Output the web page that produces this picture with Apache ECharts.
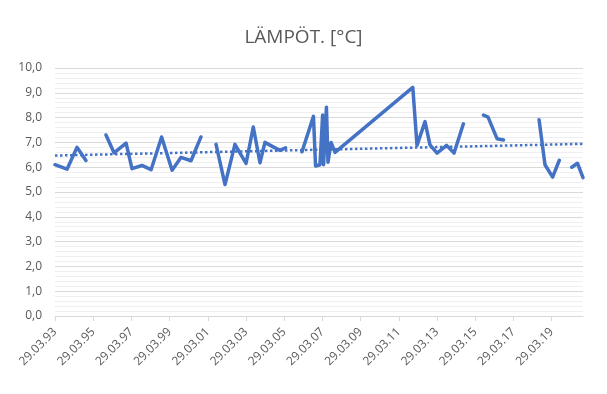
<!DOCTYPE html>
<html><head><meta charset="utf-8">
<script src="https://cdn.jsdelivr.net/npm/echarts@6/dist/echarts.min.js"></script>
<style>html,body{margin:0;padding:0;background:#fff}#c{width:607px;height:394px}</style>
</head><body><div id="c"></div>
<script>
const chartTitle = 'LÄMPÖT. [°C]';
const baseYear = 1993.24; // 29.03.1993
const years = [
  1993.24, 1993.87, 1994.39, 1994.86, 1995.35,
  1995.91, 1996.33, 1996.96, 1997.27, 1997.79, 1998.27, 1998.82, 1999.37, 1999.84, 2000.36, 2000.88, 2001.30,
  2001.67, 2002.14, 2002.66, 2003.24, 2003.62, 2003.97, 2004.23, 2004.71, 2005.02, 2005.31, 2005.70,
  2006.17, 2006.77, 2006.88, 2007.11, 2007.25, 2007.30, 2007.45, 2007.53, 2007.69, 2007.90,
  2011.97, 2012.19, 2012.61, 2012.87, 2013.24, 2013.74, 2014.13, 2014.62, 2015.20,
  2015.67, 2015.91, 2016.38, 2016.72, 2017.50,
  2018.58, 2018.89, 2019.29, 2019.64, 2019.95,
  2020.29, 2020.59, 2020.88
];
const temps = [
  6.10, 5.92, 6.80, 6.27, null,
  7.30, 6.58, 6.97, 5.94, 6.07, 5.90, 7.22, 5.88, 6.40, 6.26, 7.22, null,
  6.92, 5.30, 6.92, 6.15, 7.62, 6.18, 7.00, 6.80, 6.68, 6.78, null,
  6.62, 8.05, 6.05, 6.10, 8.10, 6.10, 8.42, 6.20, 7.00, 6.60,
  9.22, 6.88, 7.84, 6.90, 6.57, 6.88, 6.57, 7.75, null,
  8.10, 8.02, 7.15, 7.10, null,
  7.91, 6.10, 5.60, 6.28, null,
  6.00, 6.16, 5.58
];
const trendYears = [1993.24, 2020.88];
const trendTemps = [6.47, 6.94];
const tickLabels = ['29.03.93','29.03.95','29.03.97','29.03.99','29.03.01','29.03.03','29.03.05',
  '29.03.07','29.03.09','29.03.11','29.03.13','29.03.15','29.03.17','29.03.19'];

const off = y => +(y - baseYear).toFixed(3);
const mainData = years.map((y, i) => [off(y), temps[i] === null ? '-' : temps[i]]);
const trendData = trendYears.map((y, i) => [off(y), trendTemps[i]]);

const chart = echarts.init(document.getElementById('c'));
chart.setOption({
  animation: false,
  backgroundColor: '#fff',
  title: {
    text: chartTitle, left: 'center', top: 23,
    textStyle: { fontFamily: 'Open Sans', fontWeight: 'normal', fontSize: 19, color: '#595959' }
  },
  grid: { left: 55, right: 24, top: 68, bottom: 78 },
  xAxis: {
    type: 'value', min: 0, max: off(2020.88), interval: 2,
    axisLine: { show: true, lineStyle: { color: '#d9d9d9', width: 1 } },
    axisTick: { show: true, length: 5, lineStyle: { color: '#d9d9d9' } },
    splitLine: { show: false },
    axisLabel: {
      rotate: 45, margin: 14, color: '#595959', fontSize: 12, fontFamily: 'Open Sans',
      showMaxLabel: false,
      formatter: v => { const i = Math.round(v / 2); return Math.abs(v - i * 2) < 1e-6 ? (tickLabels[i] || '') : ''; }
    }
  },
  yAxis: {
    type: 'value', min: 0, max: 10, interval: 1,
    axisLine: { show: false }, axisTick: { show: false },
    splitLine: { show: true, lineStyle: { color: '#d9d9d9', width: 1 } },
    minorTick: { show: false, splitNumber: 5 },
    minorSplitLine: { show: true, lineStyle: { color: '#efefef', width: 1 } },
    axisLabel: {
      margin: 13, color: '#595959', fontSize: 12, fontFamily: 'Open Sans',
      formatter: v => v.toFixed(1).replace('.', ',')
    }
  },
  series: [
    {
      type: 'line', data: trendData, symbol: 'none', z: 2, silent: true,
      lineStyle: { color: '#4472C4', width: 2.5, type: [2.5, 2.5] }
    },
    {
      type: 'line', data: mainData, symbol: 'none', connectNulls: false, z: 3,
      lineStyle: { color: '#4472C4', width: 3.5, cap: 'round', join: 'round' }
    }
  ]
});
</script>
</body></html>
